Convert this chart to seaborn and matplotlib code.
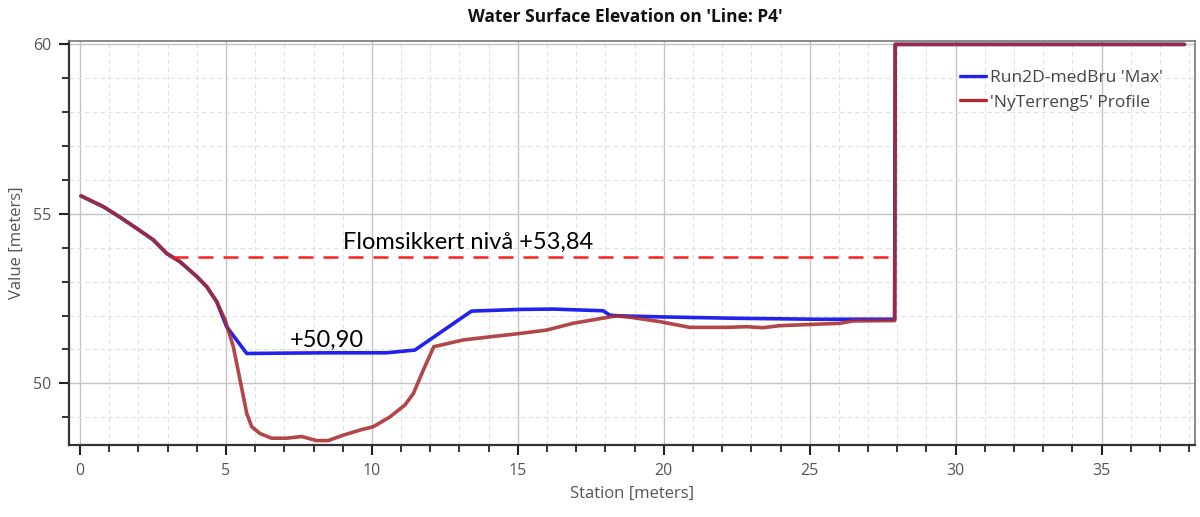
import numpy as np
import pandas as pd
import matplotlib
matplotlib.use("Agg")
import matplotlib.pyplot as plt
from matplotlib.ticker import MultipleLocator
import seaborn as sns

# ---- data ----
terrain_x = [0.03, 0.8, 1.37, 1.94, 2.51, 2.97, 3.42, 4.0, 4.34, 4.68, 4.97, 5.25, 5.48, 5.71,
             5.88, 6.16, 6.56, 7.08, 7.59, 8.1, 8.5, 9.02, 9.59, 10.05, 10.62, 11.13, 11.42,
             11.76, 12.12, 13.13, 14.04, 15.07, 15.98, 16.89, 17.69, 18.38, 18.84, 19.86,
             20.89, 22.15, 22.83, 23.4, 23.97, 26.03, 26.48, 27.91, 27.93, 37.84]
terrain_y = [55.53, 55.21, 54.9, 54.57, 54.23, 53.83, 53.59, 53.15, 52.85, 52.41, 51.87, 51.08,
             50.1, 49.11, 48.72, 48.52, 48.38, 48.38, 48.43, 48.31, 48.31, 48.47, 48.62, 48.72,
             49.01, 49.36, 49.7, 50.39, 51.08, 51.28, 51.37, 51.47, 51.57, 51.77, 51.89, 51.99,
             51.95, 51.82, 51.65, 51.65, 51.67, 51.64, 51.7, 51.77, 51.84, 51.85, 60.0, 60.0]

wse_x = [0.03, 0.8, 1.37, 1.94, 2.51, 2.97, 3.42, 4.0, 4.34, 4.68, 5.02, 5.71, 7.0, 8.5,
         10.5, 11.47, 13.41, 15.07, 16.21, 17.92, 18.15, 18.49, 19.86, 22.37, 25.23, 27.91,
         27.93, 37.84]
wse_y = [55.53, 55.21, 54.9, 54.57, 54.23, 53.83, 53.59, 53.15, 52.85, 52.41, 51.67, 50.88,
         50.89, 50.9, 50.9, 50.98, 52.13, 52.18, 52.19, 52.14, 52.01, 51.99, 51.96, 51.92,
         51.89, 51.89, 60.0, 60.0]

flood_level = 53.72
flood_x = [3.2, 27.9]
flood_label = "Flomsikkert nivå +53,84"
min_label = "+50,90"

series_names = ["Run2D-medBru 'Max'", "'NyTerreng5' Profile"]
title = "Water Surface Elevation on 'Line: P4'"
xlabel = "Station [meters]"
ylabel = "Value [meters]"
xticks = [0, 5, 10, 15, 20, 25, 30, 35]
yticks = [50, 55, 60]

# ---- plot ----
sns.set_style("white")
plt.rcParams['font.family'] = ['Open Sans', 'DejaVu Sans']

fig = plt.figure(figsize=(12, 5.17), dpi=100)
ax = fig.add_axes([0.0575, 0.1393, 0.9383, 0.7814])

df_w = pd.DataFrame({"x": wse_x, "y": wse_y})
df_t = pd.DataFrame({"x": terrain_x, "y": terrain_y})

sns.lineplot(data=df_w, x="x", y="y", ax=ax, color="#2222f0", lw=2.6, sort=False,
             label=series_names[0], estimator=None, zorder=3)
sns.lineplot(data=df_t, x="x", y="y", ax=ax, color="#a82c30", lw=2.6, alpha=0.88, sort=False,
             label=series_names[1], estimator=None, zorder=4)

ax.plot(flood_x, [flood_level, flood_level], color="#ff2020", lw=1.8,
        dashes=(6, 4), zorder=5)
ax.text(9.0, flood_level + 0.12, flood_label, ha="left", va="bottom",
        fontsize=17, family=["Lato", "DejaVu Sans"], color="black", zorder=6)
ax.text(7.19, 50.95, min_label, ha="left", va="bottom",
        fontsize=17, family=["Lato", "DejaVu Sans"], color="black", zorder=6)

ax.set_xlim(-0.38, 38.2)
ax.set_ylim(48.18, 60.1)
ax.xaxis.set_major_locator(MultipleLocator(5))
ax.xaxis.set_minor_locator(MultipleLocator(1))
ax.yaxis.set_major_locator(MultipleLocator(5))
ax.yaxis.set_minor_locator(MultipleLocator(1))
ax.set_xticks(xticks)
ax.set_yticks(yticks)

ax.grid(which="major", color="#c4c4c4", lw=1.0, ls="-", zorder=0)
ax.grid(which="minor", color="#e0e0e0", lw=0.8, ls=(0, (4, 3)), zorder=0)
ax.set_axisbelow(True)

ax.tick_params(which="major", direction="out", length=7, width=1.5, color="#222222",
               labelsize=11.5, labelcolor="#555555", pad=6, bottom=True, left=True)
ax.tick_params(which="minor", direction="out", length=5, width=1.3, color="#222222",
               bottom=True, left=True)
for side in ["left", "bottom"]:
    ax.spines[side].set_color("#333333")
    ax.spines[side].set_linewidth(1.6)
for side in ["top", "right"]:
    ax.spines[side].set_color("#777777")
    ax.spines[side].set_linewidth(1.2)

ax.set_xlabel(xlabel, fontsize=12, color="#555555", labelpad=5)
ax.set_ylabel(ylabel, fontsize=12, color="#555555", labelpad=6)
fig.text(0.521, 0.967, title, ha="center", va="center", fontsize=12.5,
         fontweight="bold", color="#111111")

leg = ax.legend(loc="upper right", bbox_to_anchor=(0.985, 0.968), frameon=False,
                fontsize=12.5, handlelength=1.5, handletextpad=0.2, labelspacing=0.5,
                labelcolor="#444444")
for h in leg.get_lines():
    h.set_linewidth(2.4)
    h.set_alpha(1)

fig.savefig("out.png", dpi=100)
